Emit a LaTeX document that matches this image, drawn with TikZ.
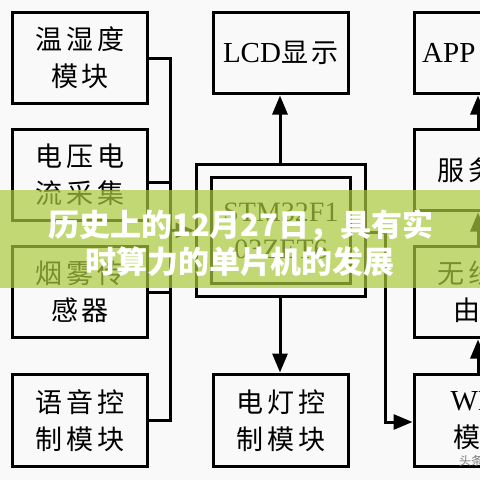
\documentclass[tikz,border=0pt]{standalone}
\usepackage{fontspec}
\usetikzlibrary{arrows.meta}
\setmainfont{Liberation Serif}
\newfontfamily\cjk{Noto Sans CJK SC}
\newfontfamily\song{Noto Sans CJK SC}
\definecolor{bg}{RGB}{249,249,249}
\definecolor{banner}{RGB}{172,202,62}
\newcommand\gp{\hspace{4pt}}
\tikzset{
  box/.style={draw, line width=3pt, inner sep=0pt, outer sep=0pt, align=center,
    font=\song\fontsize{27}{37}\selectfont, minimum width=135pt},
  con/.style={line width=3pt},
  arr/.style={con, -{Triangle[length=19pt,width=15pt]}, shorten >=2pt},
  bantext/.style={font=\cjk\bfseries\fontsize{31}{31}\selectfont, text=white, inner sep=0pt}
}
\begin{document}
\begin{tikzpicture}[x=1pt,y=-1pt]
\useasboundingbox (0,0) rectangle (480,480);
\clip (0,0) rectangle (480,480);
\fill[bg] (0,0) rectangle (480,480);

% left column
\node[box, minimum height=91pt] (b1) at (80,58) {温\gp 湿\gp 度\\模\gp 块};
\node[box, minimum height=91pt] (b2) at (80,175) {电\gp 压\gp 电\\流\gp 采\gp 集};
\node[box, minimum height=91pt] (b3) at (80,292) {烟\gp 雾\gp 传\\感\gp 器};
\node[box, minimum height=92pt] (b4) at (80,420.5) {语\gp 音\gp 控\\制\gp 模\gp 块};

% centre column
\node[box, minimum height=81pt] (lcd) at (281,53) {{\rmfamily\fontsize{29}{37}\selectfont LCD}显\gp 示};
\node[box, minimum width=169pt, minimum height=132pt] (stmo) at (281,230.5) {};
\node[box, minimum width=139pt, minimum height=106pt, font=\rmfamily\fontsize{28}{37}\selectfont] (stmi) at (281,230.5) {STM32F1\\03ZET6};
\node[box, minimum height=92pt] (led) at (281,420.5) {电\gp 灯\gp 控\\制\gp 模\gp 块};

% right column
\node[box, minimum height=81pt] (app) at (482,53) {};
\node[anchor=west, inner sep=0pt, font=\rmfamily\fontsize{29}{29}\selectfont] (apptxt) at (422,53) {APP};
\node[box, minimum height=81pt] (srv) at (482,170) {服\gp 务\gp 器};
\node[box, minimum height=91pt] (rtr) at (482,292) {无\gp 线\gp 路\\由\gp 器};
\node[box, minimum height=92pt] (wifi) at (482,420.5) {{\rmfamily\fontsize{29}{37}\selectfont WIFI}\\模\gp 块};

% left bus
\coordinate (bt) at (170,58);
\coordinate (bb) at (170,420.5);
\coordinate (bm) at (170,230.5);
\coordinate (b2c) at ([yshift=-7pt]b2.east);
\draw[con] (b1.east) -- (bt) -- (bb) -- (b4.east);
\draw[con] (b2c) -- (b2c -| bt);
\draw[con] (b3.east) -- (b3.east -| bt);
\draw[arr] (bm) -- (stmo.west);

% centre arrows
\draw[arr] ([xshift=-1pt]stmo.north) -- ([xshift=-1pt]lcd.south);
\draw[arr] ([xshift=-1pt]stmo.south) -- ([xshift=-1pt]led.north);

% right connection
\coordinate (rt) at (385,232);
\coordinate (rb) at (385,422);
\draw[arr] (stmo.east |- rt) -- (rt) -- (rb) -- (rb -| wifi.west);

% right column arrows
\draw[arr] ([xshift=-4pt]srv.north) -- ([xshift=-4pt]app.south);
\draw[arr] ([xshift=-4pt]rtr.north) -- ([xshift=-4pt]srv.south);
\draw[arr] ([xshift=-4pt]wifi.north) -- ([xshift=-4pt]rtr.south);

% watermark
\node[anchor=west, inner sep=0pt, font=\cjk\fontsize{12}{12}\selectfont, text=gray] (wm) at (459,461) {头条};

% banner
\fill[banner, opacity=0.7] (0,190) rectangle (480,288);
\node[bantext] (t1) at (241,225) {历史上的12月27日，具有实};
\node[bantext] (t2) at (240,262) {时算力的单片机的发展};
\end{tikzpicture}
\end{document}
